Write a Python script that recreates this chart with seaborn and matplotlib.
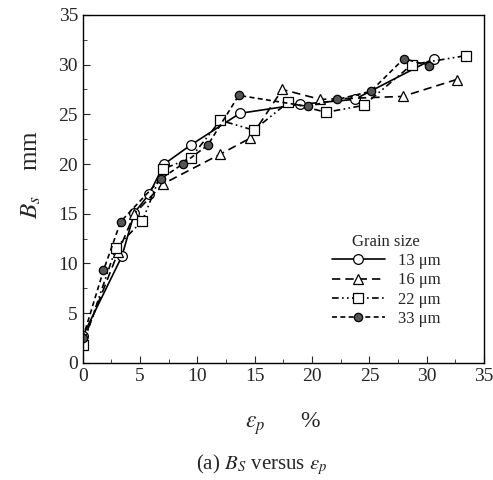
import matplotlib
matplotlib.use("Agg")
import matplotlib.pyplot as plt
import seaborn as sns
import pandas as pd
from matplotlib.ticker import MultipleLocator

# ----- DATA -----
labels = ["13 μm", "16 μm", "22 μm", "33 μm"]

x13 = [0, 3.4, 4.5, 5.8, 7.1, 9.4, 13.7, 18.9, 23.7, 30.6]
y13 = [2.7, 10.7, 15.1, 17.0, 20.0, 21.9, 25.1, 26.0, 26.5, 30.6]

x16 = [0, 3.1, 4.5, 7.0, 12.0, 14.6, 17.4, 20.7, 27.9, 32.6]
y16 = [2.1, 11.2, 15.0, 18.0, 21.0, 22.6, 27.5, 26.5, 26.8, 28.5]

x22 = [0, 2.9, 5.2, 7.0, 9.4, 12.0, 14.9, 17.9, 21.2, 24.5, 28.7, 33.4]
y22 = [1.8, 11.6, 14.3, 19.5, 20.6, 24.4, 23.4, 26.2, 25.2, 25.9, 30.0, 30.9]

x33 = [0, 1.8, 3.3, 6.8, 8.7, 10.9, 13.6, 19.6, 22.2, 25.1, 28.0, 30.2]
y33 = [2.5, 9.3, 14.2, 18.5, 20.0, 21.9, 26.9, 25.8, 26.5, 27.3, 30.6, 29.9]

series = [(x13, y13), (x16, y16), (x22, y22), (x33, y33)]

# ----- STYLE -----
sns.set_style("ticks")
plt.rcParams["font.family"] = ["Liberation Serif", "DejaVu Serif"]
plt.rcParams["mathtext.fontset"] = "stix"

markers = ["o", "^", "s", "o"]
faces = ["white", "white", "white", "#555555"]
dashes = ["-", (0, (5, 3)), (0, (4, 2, 1, 2, 1, 2)), (0, (3, 2))]
sizes = [7, 7, 7, 6]

fig = plt.figure(figsize=(4.93, 4.80), dpi=100)
ax = fig.add_axes([0.168, 0.244, 0.814, 0.725])

for (xs, ys), lab, m, fc, ls, ms in zip(series, labels, markers, faces, dashes, sizes):
    df = pd.DataFrame({"strain": xs, "Bs": ys})
    sns.lineplot(data=df, x="strain", y="Bs", ax=ax, sort=False, color="black",
                 linestyle=ls, linewidth=1.2, marker=m, markersize=ms,
                 markerfacecolor=fc, markeredgecolor="black", markeredgewidth=0.9,
                 label=lab)

ax.set_xlim(0, 35)
ax.set_ylim(0, 35)
ax.xaxis.set_major_locator(MultipleLocator(5))
ax.yaxis.set_major_locator(MultipleLocator(5))
ax.xaxis.set_minor_locator(MultipleLocator(2.5))
ax.yaxis.set_minor_locator(MultipleLocator(2.5))
ax.tick_params(which="both", direction="in", labelsize=14, top=False, right=False)
ax.tick_params(which="major", length=5)
ax.tick_params(which="minor", length=3)
for sp in ax.spines.values():
    sp.set_linewidth(1.0)
    sp.set_color("black")

ax.set_xlabel(r"$\varepsilon_p$      %", fontsize=17, labelpad=18)
ax.set_ylabel(r"$B_s$    mm", fontsize=18)
ax.yaxis.set_label_coords(-0.1, 0.54)

leg = ax.legend(title="Grain size", loc="lower right", bbox_to_anchor=(0.93, 0.06),
                frameon=False, fontsize=12, title_fontsize=12, handlelength=3.2,
                labelspacing=0.2, handletextpad=0.8)

fig.text(0.53, 0.022, r"(a) $B_S$ versus $\varepsilon_p$", ha="center", fontsize=15)

fig.savefig("out.png", dpi=100)
